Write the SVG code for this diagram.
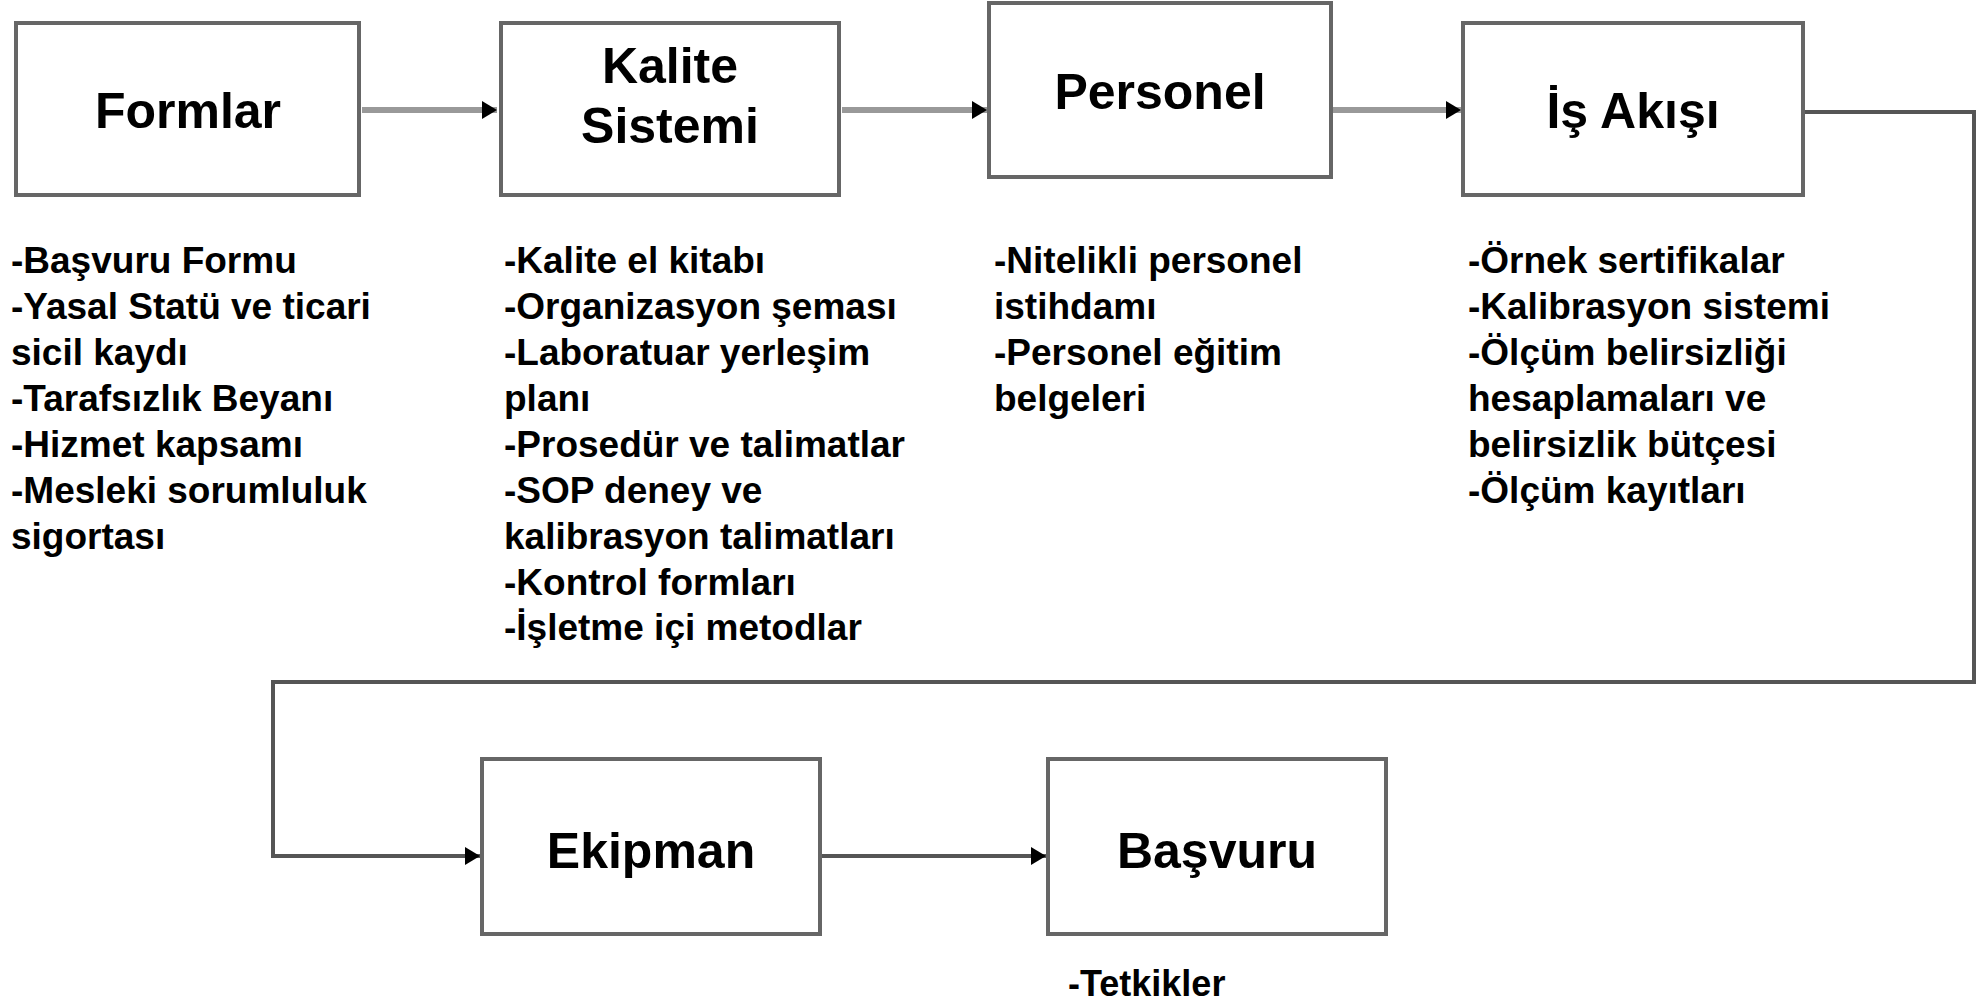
<svg xmlns="http://www.w3.org/2000/svg" width="1979" height="1006" viewBox="0 0 1979 1006">
<style>
.box{fill:#fff;stroke:#666;stroke-width:4}
.title{font-family:"Liberation Sans",Arial,sans-serif;font-weight:bold;font-size:50px;fill:#000;text-anchor:middle}
.body{font-family:"Liberation Sans",Arial,sans-serif;font-weight:bold;font-size:37px;fill:#000}
.c1{fill:none;stroke:#999;stroke-width:6}
.c2{fill:none;stroke:#555;stroke-width:4}
</style>
<defs>
<marker id="ah" markerUnits="userSpaceOnUse" markerWidth="16" markerHeight="20" refX="15" refY="10" orient="auto">
<path d="M0,1 L15,10 L0,19 z" fill="#000"/>
</marker>
</defs>
<rect width="1979" height="1006" fill="#fff"/>
<g id="connectors">
<path class="c1" d="M362,110 H497" marker-end="url(#ah)"/>
<path class="c1" d="M842,110 H987" marker-end="url(#ah)"/>
<path class="c1" d="M1333,110 H1461" marker-end="url(#ah)"/>
<path class="c2" d="M1805,112 H1974 V682 H273 V856 H480" marker-end="url(#ah)"/>
<path class="c2" d="M822,856 H1046" marker-end="url(#ah)"/>
</g>
<g id="formlar">
<rect class="box" x="16" y="23" width="343" height="172"/>
<text class="title" x="188" y="128">Formlar</text>
<text class="body" x="11" y="273"><tspan x="11">-Başvuru Formu</tspan><tspan x="11" dy="46">-Yasal Statü ve ticari</tspan><tspan x="11" dy="46">sicil kaydı</tspan><tspan x="11" dy="46">-Tarafsızlık Beyanı</tspan><tspan x="11" dy="46">-Hizmet kapsamı</tspan><tspan x="11" dy="46">-Mesleki sorumluluk</tspan><tspan x="11" dy="46">sigortası</tspan></text>
</g>
<g id="kalite">
<rect class="box" x="501" y="23" width="338" height="172"/>
<text class="title" x="670" y="83">Kalite</text>
<text class="title" x="670" y="143">Sistemi</text>
<text class="body" x="504" y="273"><tspan x="504">-Kalite el kitabı</tspan><tspan x="504" dy="46">-Organizasyon şeması</tspan><tspan x="504" dy="46">-Laboratuar yerleşim</tspan><tspan x="504" dy="46">planı</tspan><tspan x="504" dy="46">-Prosedür ve talimatlar</tspan><tspan x="504" dy="46">-SOP deney ve</tspan><tspan x="504" dy="46">kalibrasyon talimatları</tspan><tspan x="504" dy="46">-Kontrol formları</tspan><tspan x="504" dy="45">-İşletme içi metodlar</tspan></text>
</g>
<g id="personel">
<rect class="box" x="989" y="3" width="342" height="174"/>
<text class="title" x="1160" y="109">Personel</text>
<text class="body" x="994" y="273"><tspan x="994">-Nitelikli personel</tspan><tspan x="994" dy="46">istihdamı</tspan><tspan x="994" dy="46">-Personel eğitim</tspan><tspan x="994" dy="46">belgeleri</tspan></text>
</g>
<g id="is-akisi">
<rect class="box" x="1463" y="23" width="340" height="172"/>
<text class="title" x="1633" y="128">İş Akışı</text>
<text class="body" x="1468" y="273"><tspan x="1468">-Örnek sertifikalar</tspan><tspan x="1468" dy="46">-Kalibrasyon sistemi</tspan><tspan x="1468" dy="46">-Ölçüm belirsizliği</tspan><tspan x="1468" dy="46">hesaplamaları ve</tspan><tspan x="1468" dy="46">belirsizlik bütçesi</tspan><tspan x="1468" dy="46">-Ölçüm kayıtları</tspan></text>
</g>
<g id="ekipman">
<rect class="box" x="482" y="759" width="338" height="175"/>
<text class="title" x="651" y="868">Ekipman</text>
</g>
<g id="basvuru">
<rect class="box" x="1048" y="759" width="338" height="175"/>
<text class="title" x="1217" y="868">Başvuru</text>
<text class="body" x="1068" y="996" style="font-size:36px">-Tetkikler</text>
</g>
</svg>
